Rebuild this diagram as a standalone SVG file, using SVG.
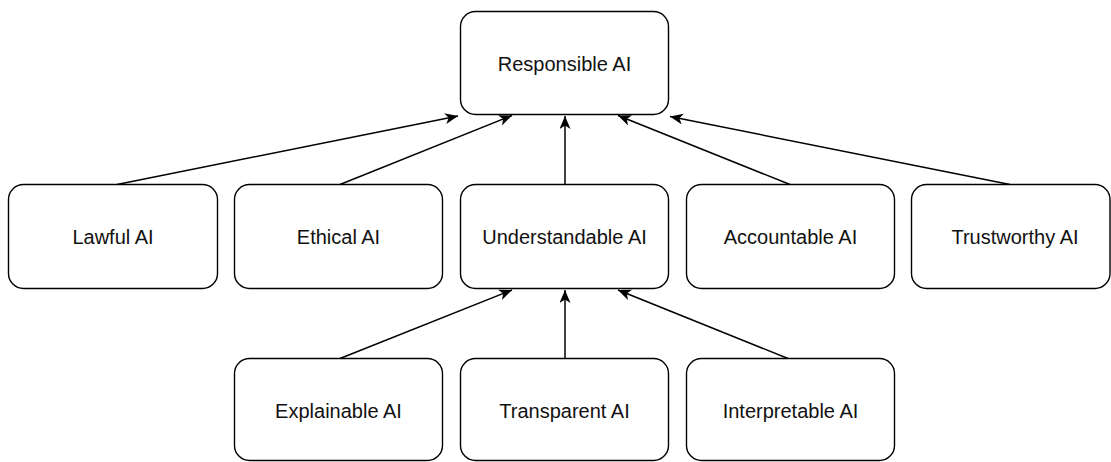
<svg xmlns="http://www.w3.org/2000/svg" width="1111" height="462" viewBox="0 0 1111 462">
  <style>
    .box { fill: #ffffff; stroke: #000000; stroke-width: 1.4; }
    .label { font-family: "Liberation Sans", Arial, Helvetica, sans-serif; font-size: 20px; fill: #111111; text-anchor: middle; dominant-baseline: central; }
    .edge { fill: none; stroke: #000000; stroke-width: 1.5; marker-end: url(#arrow); }
  </style>
  <defs>
    <marker id="arrow" markerUnits="userSpaceOnUse" markerWidth="16" markerHeight="14" refX="13" refY="5.5" orient="auto">
      <path d="M0,0 L13,5.5 L0,11 L3.5,5.5 Z" fill="#000000"/>
    </marker>
  </defs>
  <rect width="1111" height="462" fill="#ffffff"/>

  <g id="connectors">
    <line class="edge" x1="117" y1="184.5" x2="458" y2="116"/>
    <line class="edge" x1="340" y1="184.5" x2="512" y2="115.5"/>
    <line class="edge" x1="565" y1="184.5" x2="565" y2="116"/>
    <line class="edge" x1="790" y1="184.5" x2="618" y2="115.5"/>
    <line class="edge" x1="1010" y1="184.5" x2="670" y2="116.5"/>
    <line class="edge" x1="340" y1="358.5" x2="512" y2="290"/>
    <line class="edge" x1="565" y1="358.5" x2="565" y2="290"/>
    <line class="edge" x1="788" y1="358.5" x2="618" y2="290"/>
  </g>

  <g id="responsible">
    <rect class="box" x="460.5" y="11.5" width="208" height="103" rx="15"/>
    <text class="label" x="564.5" y="64">Responsible AI</text>
  </g>

  <g id="lawful">
    <rect class="box" x="8.5" y="184.5" width="209" height="104" rx="15"/>
    <text class="label" x="113" y="237">Lawful AI</text>
  </g>
  <g id="ethical">
    <rect class="box" x="234.5" y="184.5" width="208" height="104" rx="15"/>
    <text class="label" x="338.5" y="237">Ethical AI</text>
  </g>
  <g id="understandable">
    <rect class="box" x="460.5" y="184.5" width="208" height="104" rx="15"/>
    <text class="label" x="564.5" y="237">Understandable AI</text>
  </g>
  <g id="accountable">
    <rect class="box" x="686.5" y="184.5" width="208" height="104" rx="15"/>
    <text class="label" x="790.5" y="237">Accountable AI</text>
  </g>
  <g id="trustworthy">
    <rect class="box" x="911.5" y="184.5" width="198.5" height="104" rx="15"/>
    <text class="label" x="1015" y="237">Trustworthy AI</text>
  </g>

  <g id="explainable">
    <rect class="box" x="234.5" y="358.5" width="208" height="102" rx="15"/>
    <text class="label" x="338.5" y="411">Explainable AI</text>
  </g>
  <g id="transparent">
    <rect class="box" x="460.5" y="358.5" width="208" height="102" rx="15"/>
    <text class="label" x="564.5" y="411">Transparent AI</text>
  </g>
  <g id="interpretable">
    <rect class="box" x="686.5" y="358.5" width="208" height="102" rx="15"/>
    <text class="label" x="790.5" y="411">Interpretable AI</text>
  </g>
</svg>
